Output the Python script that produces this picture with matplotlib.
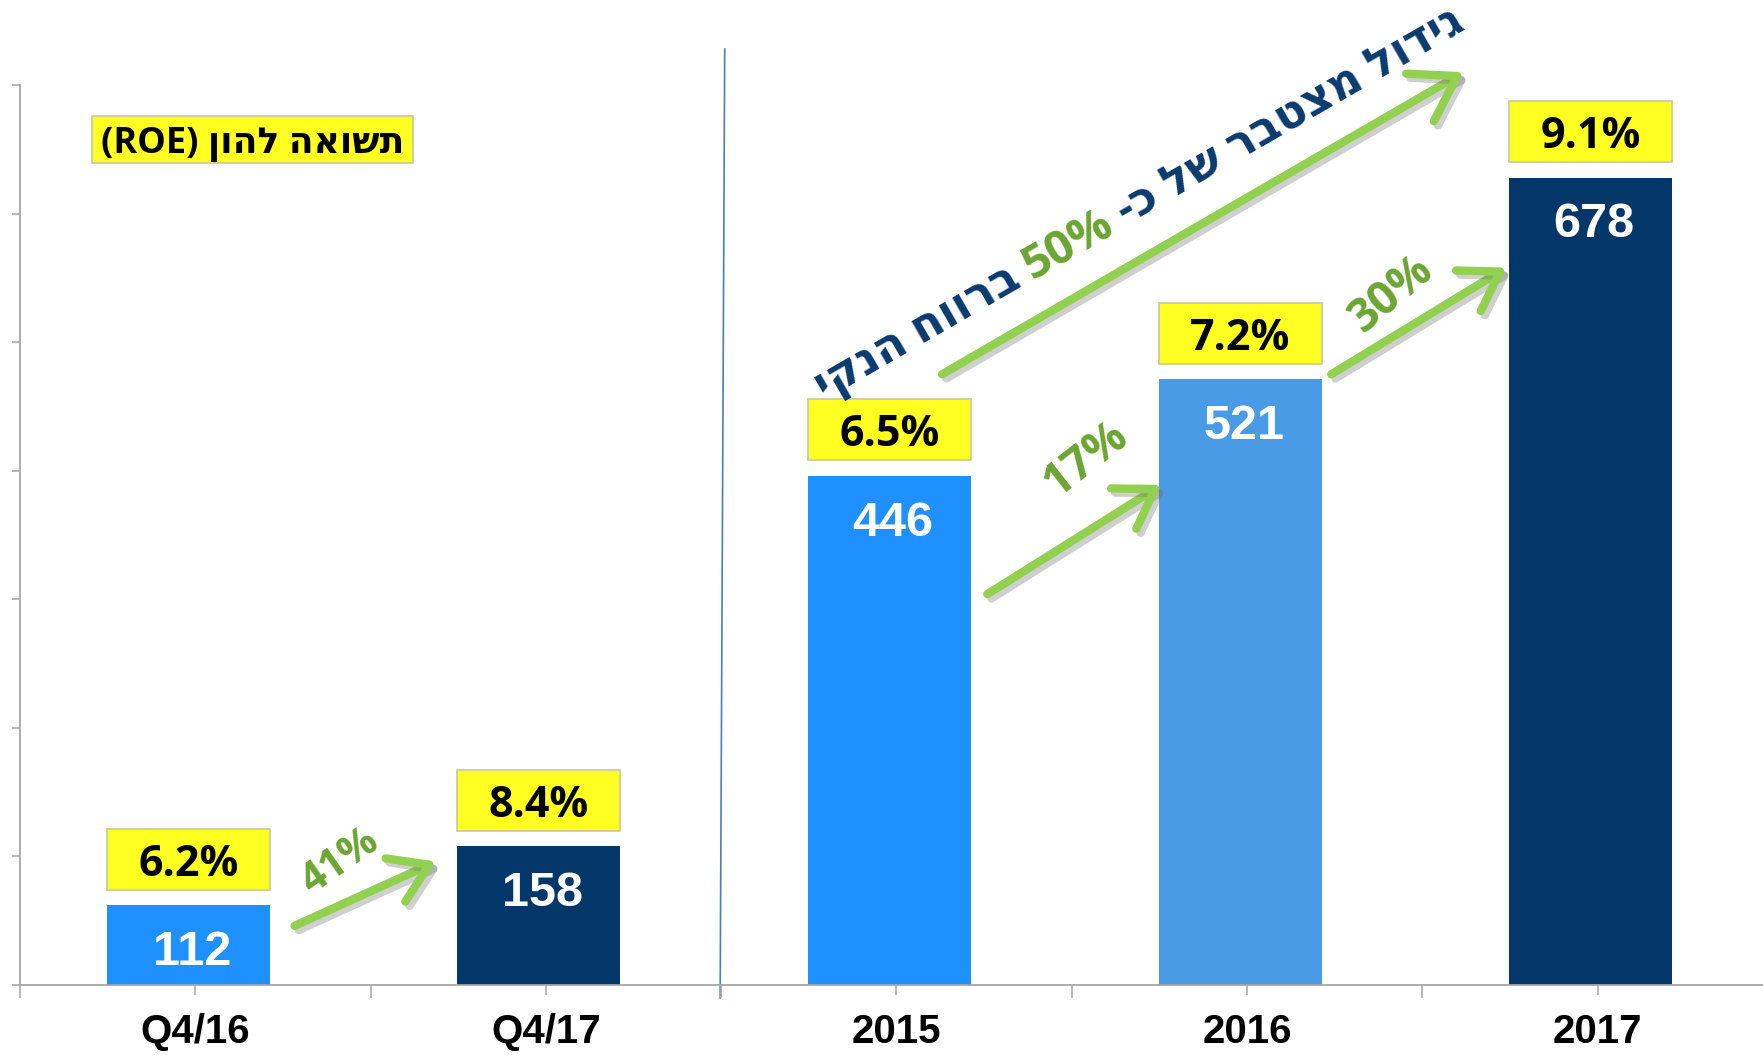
import numpy as np
import matplotlib.pyplot as plt
import matplotlib.patheffects as pe
from matplotlib.patches import Rectangle

# ============================================================
# DATA
# ============================================================
categories = ["Q4/16", "Q4/17", "2015", "2016", "2017"]
net_profit = [112, 158, 446, 521, 678]
roe_labels = ["6.2%", "8.4%", "6.5%", "7.2%", "9.1%"]
bar_colors = ["#1E90FF", "#033769", "#1E90FF", "#4A9BE5", "#033769"]

growth_labels = ["41%", "17%", "30%"]
roe_title = "תשואה להון (ROE)"
total_growth = "50%"
total_before = "גידול מצטבר של כ-"
total_after = "ברווח הנקי"

GREEN = "#92D050"
GREEN_TXT = "#6BA532"
NAVY_TXT = "#0B3B6E"
HEB = ["Open Sans", "DejaVu Sans"]


def visual(s):
    # crude RTL -> visual order for matplotlib (no bidi support)
    out = []
    for w in s.split(" ")[::-1]:
        if any("\u0590" <= c <= "\u05FF" for c in w):
            w = w[::-1]
        out.append(w)
    return " ".join(out)


# ============================================================
# FIGURE & BARS
# ============================================================
W, H = 1763, 1055
fig = plt.figure(figsize=(W / 100, H / 100), dpi=100)
ax = fig.add_axes([20 / W, 70 / H, 1753 / W, 900 / H])

x = np.arange(len(categories))
bx = x - 0.02
bw = 0.465
ax.bar(bx, net_profit, width=bw, color=bar_colors, zorder=2)

ax.set_xlim(-0.5, 4.5)
ax.set_ylim(50, 750)
ax.set_yticks(np.arange(50, 751, 100))
ax.set_yticklabels([])
ax.set_xticks(x)
ax.set_xticks(np.arange(-0.5, 4.6, 1), minor=True)
ax.set_xticklabels(categories, fontsize=29, fontweight="bold",
                   family="Liberation Sans")
ax.tick_params(axis="x", which="major", length=7, width=1.1,
               color="#A6A6A6", pad=13)
ax.tick_params(axis="x", which="minor", length=9.5, width=1.1,
               color="#A6A6A6")
ax.tick_params(axis="y", length=6, width=1.1, color="#A6A6A6")
for s in ["top", "right"]:
    ax.spines[s].set_visible(False)
for s in ["left", "bottom"]:
    ax.spines[s].set_color("#A6A6A6")
    ax.spines[s].set_linewidth(1.3)

# value labels inside the bars + yellow ROE boxes above
box_h = 47.5
for xi, v, roe in zip(bx, net_profit, roe_labels):
    ax.annotate(str(v), (xi + 0.01, v), xytext=(0, -34),
                textcoords="offset points", ha="center", va="center",
                color="white", fontsize=35, fontweight="bold",
                family="Liberation Sans", zorder=4)
    ax.add_patch(Rectangle((xi - bw / 2, v + 12), bw, box_h,
                           facecolor="#FFFF22", edgecolor="#C8C8A0",
                           lw=1.2, clip_on=False, zorder=3))
    ax.text(xi, v + 12 + box_h / 2, roe, ha="center", va="center_baseline",
            fontsize=31, fontweight="bold", family=HEB, color="black",
            zorder=4)

# ROE title box
ax.add_patch(Rectangle((-0.295, 689), 0.916, 37, facecolor="#FFFF22",
                       edgecolor="#C8C8A0", lw=1.2, clip_on=False, zorder=3))
ax.text(0.163, 707.5, visual(roe_title), ha="center", va="center_baseline",
        fontsize=26, fontweight="bold", family=HEB, color="black", zorder=4)

# divider between quarterly and annual
ax.plot([1.51, 1.497], [778, 40], color="#4A7EBB", lw=1.2,
        clip_on=False, zorder=1)

# ============================================================
# GROWTH ARROWS
# ============================================================
shadow = [pe.SimpleLineShadow(offset=(3, -3), shadow_color="#777777",
                              alpha=0.35), pe.Normal()]
arrow_kw = dict(arrowstyle="->,head_length=0.7,head_width=0.45",
                color=GREEN, lw=6, mutation_scale=38,
                shrinkA=0, shrinkB=0, path_effects=shadow)

# (start, end, label centre, rotation, fontsize) for each growth arrow
arrow_specs = [
    ((0.283, 96), (0.687, 146), (0.414, 146), 35, 30),
    ((2.259, 354), (2.756, 439), (2.538, 459), 38, 33),
    ((3.240, 525), (3.740, 608), (3.410, 587), 40, 33),
]
for lab, (start, end, tpos, rot, fs) in zip(growth_labels, arrow_specs):
    ax.annotate("", xy=end, xytext=start, arrowprops=arrow_kw,
                annotation_clip=False)
    ax.text(*tpos, lab, ha="center", va="center", rotation=rot,
            rotation_mode="anchor", fontsize=fs, fontweight="bold",
            family=HEB, color=GREEN_TXT)

# cumulative growth arrow 2015 -> 2017
ax.annotate("", xy=(3.618, 760), xytext=(2.13, 525),
            arrowprops=dict(arrow_kw, mutation_scale=44),
            annotation_clip=False)

# rotated multi-colour caption along the big arrow
renderer = fig.canvas.get_renderer()


def text_w(s, **kw):
    t = fig.text(0, 0, s, **kw)
    w = t.get_window_extent(renderer).width
    t.remove()
    return w


ang = 30
d = np.array([np.cos(np.radians(ang)), np.sin(np.radians(ang))])
nrm = np.array([-d[1], d[0]])
kw_n = dict(fontsize=33, fontweight="bold", family=HEB)
kw_g = dict(fontsize=34, fontweight="bold", family=HEB)
sp = text_w("a a", **kw_n) - text_w("aa", **kw_n)
w_mid = text_w(total_growth, **kw_g)
c_mid = np.array([1067.0, H - 242.0]) - nrm * 16

pieces = [
    (visual(total_after), c_mid - d * (w_mid / 2 + sp), "right", NAVY_TXT, kw_n),
    (total_growth, c_mid, "center", GREEN_TXT, kw_g),
    (visual(total_before), c_mid + d * (w_mid / 2 + sp), "left", NAVY_TXT, kw_n),
]
for s, p, ha, col, kw in pieces:
    fig.text(p[0] / W, p[1] / H, s, ha=ha, va="baseline", rotation=ang,
             rotation_mode="anchor", color=col, **kw)

fig.savefig("out.png", dpi=100, facecolor="white")
